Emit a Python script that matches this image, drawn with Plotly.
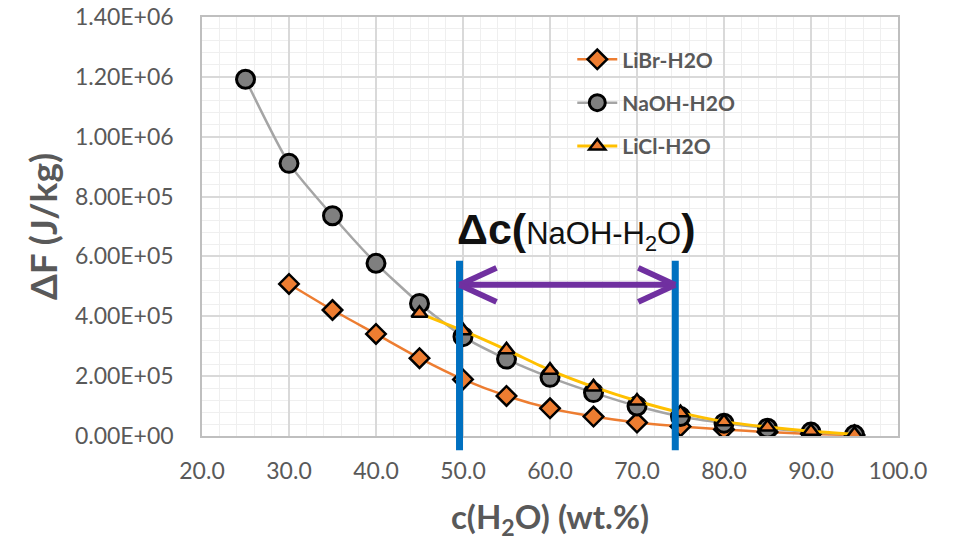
import plotly.graph_objects as go

# ---- data ----
x_libr = [30, 35, 40, 45, 50, 55, 60, 65, 70, 75, 80, 85, 90, 95]
y_libr = [5.08e5, 4.21e5, 3.41e5, 2.60e5, 1.89e5, 1.34e5, 9.25e4, 6.5e4, 4.5e4, 3.2e4, 2.2e4, 1.3e4, 7e3, 3e3]

x_naoh = [25, 30, 35, 40, 45, 50, 55, 60, 65, 70, 75, 80, 85, 90, 95]
y_naoh = [1.192e6, 9.11e5, 7.36e5, 5.77e5, 4.43e5, 3.32e5, 2.57e5, 1.96e5, 1.45e5, 1.00e5, 6.5e4, 4.3e4, 2.6e4, 1.3e4, 4e3]

x_licl = [45, 50, 55, 60, 65, 70, 75, 80, 85, 90, 95]
y_licl = [4.10e5, 3.52e5, 2.88e5, 2.20e5, 1.64e5, 1.17e5, 7.8e4, 4.8e4, 3.0e4, 1.6e4, 6e3]

y_tickvals = [0, 2e5, 4e5, 6e5, 8e5, 1.0e6, 1.2e6, 1.4e6]
y_ticktext = ["0.00E+00", "2.00E+05", "4.00E+05", "6.00E+05", "8.00E+05", "1.00E+06", "1.20E+06", "1.40E+06"]

range_lines = [49.6, 74.4]          # blue vertical markers (c(H2O) wt.%)
arrow_y = 5.05e5                     # level of the purple double arrow

GRAY = "#595959"

fig = go.Figure()

fig.add_trace(go.Scatter(
    x=x_libr, y=y_libr, name="LiBr-H2O", mode="lines+markers", legendgroup="a",
    line=dict(color="#ED7D31", width=2.5, shape="spline", smoothing=0.6),
    marker=dict(symbol="diamond", size=15, color="#ED7D31", line=dict(color="black", width=2.5)),
))
fig.add_trace(go.Scatter(
    x=x_naoh, y=y_naoh, name="NaOH-H2O", mode="lines+markers", legendgroup="b",
    line=dict(color="#A5A5A5", width=2.5, shape="spline", smoothing=0.6),
    marker=dict(symbol="circle", size=18, color="#7F7F7F", line=dict(color="black", width=3)),
))
fig.add_trace(go.Scatter(
    x=x_licl, y=y_licl, name="LiCl-H2O", mode="lines+markers", legendgroup="c",
    line=dict(color="#FFC000", width=3, shape="spline", smoothing=0.6),
    marker=dict(symbol="triangle-up", size=14, color="#ED7D31", line=dict(color="black", width=2.5)),
))

# blue vertical lines (extend below the axis)
for xv in range_lines:
    fig.add_shape(type="line", xref="x", yref="paper", x0=xv, x1=xv, y0=0.418, y1=-0.034,
                  line=dict(color="#0070C0", width=7), layer="above")

# purple double arrow
PURPLE = "#7030A0"
fig.add_shape(type="line", xref="x", yref="y", x0=range_lines[0], x1=range_lines[1],
              y0=arrow_y, y1=arrow_y, line=dict(color=PURPLE, width=6), layer="above")
for xv, sgn in [(range_lines[0], 1), (range_lines[1], -1)]:
    for dy in (17, -17):
        fig.add_shape(type="line", xref="x", yref="y",
                      xsizemode="pixel", xanchor=xv, x0=0, x1=sgn * 37,
                      ysizemode="pixel", yanchor=arrow_y, y0=0, y1=dy,
                      line=dict(color=PURPLE, width=6), layer="above")

fig.add_annotation(
    x=63.0, y=6.88e5, xref="x", yref="y", showarrow=False,
    text=('<b><span style="font-size:43px">Δc(</span></b>NaOH-H<sub>2</sub>O'
          '<b><span style="font-size:43px">)</span></b>'),
    font=dict(family="Liberation Sans, Arial", size=31, color="#111111"),
)

fig.update_layout(
    width=954, height=541,
    margin=dict(l=202, r=56, t=17, b=105),
    paper_bgcolor="white", plot_bgcolor="white",
    font=dict(family="Lato, Liberation Sans, sans-serif", color=GRAY),
    legend=dict(x=0.532, y=0.947, xanchor="left", yanchor="top",
                bgcolor="rgba(0,0,0,0)", tracegroupgap=13,
                font=dict(size=21, color=GRAY, family="Lato", weight="bold"),
                itemwidth=40),
    showlegend=True,
)

fig.update_xaxes(
    range=[20, 100], dtick=10, tick0=20, tickformat=".1f", automargin=False,
    showgrid=True, gridcolor="#D9D9D9", gridwidth=1.5,
    minor=dict(dtick=2, showgrid=True, gridcolor="#EFEFEF", gridwidth=1),
    showline=True, linecolor="#BFBFBF", linewidth=1.5, mirror=True,
    ticks="", ticklabelstandoff=14, tickfont=dict(size=23, color=GRAY), zeroline=False,
    title=dict(text="<b>c(H<sub>2</sub>O) (wt.%)</b>", font=dict(size=33, color=GRAY), standoff=27),
)
fig.update_yaxes(
    range=[0, 1.4e6], tickvals=y_tickvals, ticktext=y_ticktext, automargin=False,
    showgrid=True, gridcolor="#D9D9D9", gridwidth=1.5,
    minor=dict(dtick=4e4, showgrid=True, gridcolor="#EFEFEF", gridwidth=1),
    showline=True, linecolor="#BFBFBF", linewidth=1.5, mirror=True,
    ticks="", ticklabelstandoff=22, tickfont=dict(size=23, color=GRAY), zeroline=False,
    title=dict(text="<b>ΔF (J/kg)</b>", font=dict(size=37, color=GRAY), standoff=6),
)

fig.write_html("out.html", config={"displayModeBar": False},
               post_script="document.body.style.margin='0';")
